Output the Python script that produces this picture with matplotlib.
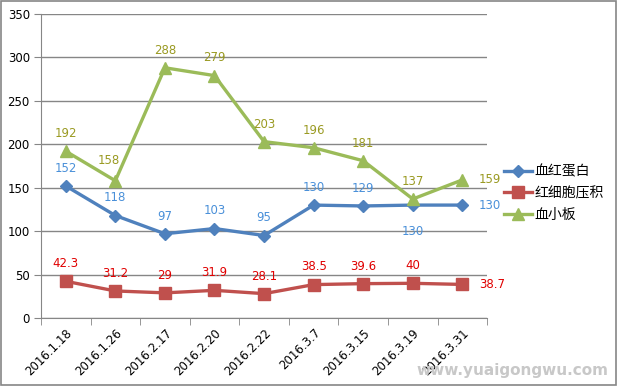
import matplotlib.pyplot as plt

plt.rcParams['font.family'] = ['DejaVu Sans', 'Noto Sans CJK SC']

dates = ["2016.1.18", "2016.1.26", "2016.2.17", "2016.2.20", "2016.2.22",
         "2016.3.7", "2016.3.15", "2016.3.19", "2016.3.31"]
hemoglobin = [152, 118, 97, 103, 95, 130, 129, 130, 130]
hematocrit = [42.3, 31.2, 29, 31.9, 28.1, 38.5, 39.6, 40, 38.7]
platelets = [192, 158, 288, 279, 203, 196, 181, 137, 159]

names = ["血红蛋白", "红细胞压积", "血小板"]

fig = plt.figure(figsize=(6.18, 3.86), dpi=100)
ax = fig.add_axes([0.0663, 0.176, 0.722, 0.788])

x = list(range(len(dates)))
series = [
    (hemoglobin, "#4F81BD", "D", 6, "#4A90D9"),
    (hematocrit, "#C0504D", "s", 8, "#E00000"),
    (platelets, "#9BBB59", "^", 8, "#9A9A22"),
]

for (vals, color, marker, ms, lcolor), name in zip(series, names):
    ax.plot(x, vals, color=color, lw=2.4, marker=marker, ms=ms, label=name)
    for i, v in enumerate(vals):
        txt = f"{v:g}"
        if i == len(vals) - 1:
            ax.annotate(txt, (i, v), xytext=(12, 0), textcoords="offset points",
                        ha="left", va="center", color=lcolor, fontsize=8.5)
        elif vals is hemoglobin and i == 7:
            ax.annotate(txt, (i, v), xytext=(0, -14), textcoords="offset points",
                        ha="center", va="top", color=lcolor, fontsize=8.5)
        elif vals is platelets and i == 1:
            ax.annotate(txt, (i, v), xytext=(-5, 10), textcoords="offset points",
                        ha="center", va="bottom", color=lcolor, fontsize=8.5)
        else:
            ax.annotate(txt, (i, v), xytext=(0, 8), textcoords="offset points",
                        ha="center", va="bottom", color=lcolor, fontsize=8.5)

ax.set_xlim(-0.5, len(dates) - 0.5)
ax.set_ylim(0, 350)
ax.set_yticks(range(0, 351, 50))
ax.set_xticks(x)
ax.set_xticklabels(dates, rotation=45, ha="right", rotation_mode="anchor", fontsize=8.5)
ax.tick_params(axis="y", labelsize=8.5, length=5, pad=3, color="#868686")
ax.tick_params(axis="x", length=0, pad=6)
# category dividers as minor ticks
ax.set_xticks([i - 0.5 for i in range(len(dates) + 1)], minor=True)
ax.tick_params(axis="x", which="minor", length=5, color="#868686", direction="out")
ax.yaxis.grid(True, color="#868686", lw=1)
ax.set_axisbelow(True)
for side in ["top", "right"]:
    ax.spines[side].set_visible(False)
ax.spines["left"].set_color("#868686")
ax.spines["bottom"].set_color("#868686")

leg = fig.legend(loc="center left", bbox_to_anchor=(0.8, 0.5), frameon=False,
                 prop={"family": "Noto Sans CJK SC", "size": 10},
                 handlelength=2.0, labelspacing=0.55, handletextpad=0.2,
                 borderpad=0.2)

fig.text(0.985, 0.02, "www.yuaigongwu.com", ha="right", va="bottom",
         color="#C8C8C8", fontsize=11, fontweight="bold")

border = plt.Rectangle((0.002, 0.003), 0.995, 0.994, transform=fig.transFigure,
                       fill=False, edgecolor="#868686", lw=1.2)
fig.patches.append(border)

fig.savefig("out.png", dpi=100)
